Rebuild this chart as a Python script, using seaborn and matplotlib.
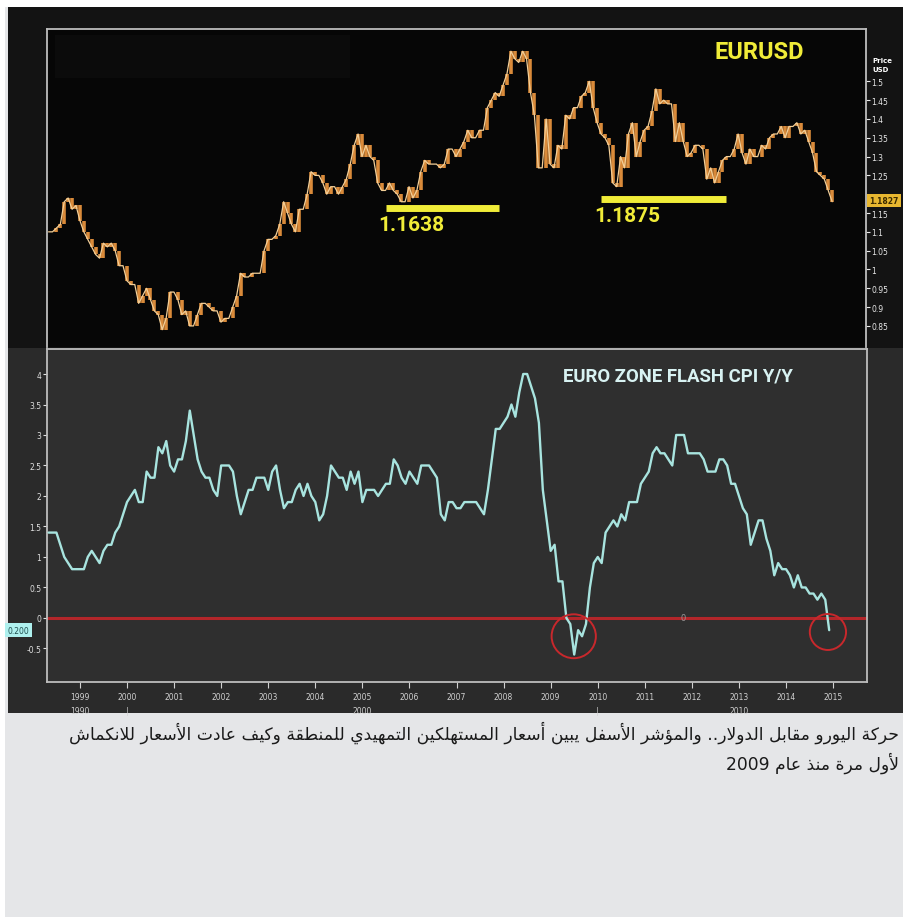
import re
import numpy as np
import pandas as pd
import matplotlib
matplotlib.use('Agg')
import matplotlib.pyplot as plt
from matplotlib.patches import Ellipse, Rectangle
import seaborn as sns

# EURUSD, monthly, May 1998 - Jan 2015
eurusd = [1.10, 1.10, 1.11, 1.12, 1.18, 1.19, 1.16, 1.17,
          1.13, 1.10, 1.08, 1.06, 1.04, 1.03, 1.07, 1.06, 1.07, 1.05, 1.01, 1.01,
          0.97, 0.96, 0.96, 0.91, 0.93, 0.95, 0.92, 0.89, 0.88, 0.84, 0.87, 0.94,
          0.94, 0.92, 0.88, 0.89, 0.85, 0.85, 0.88, 0.91, 0.91, 0.90, 0.89, 0.89,
          0.86, 0.87, 0.87, 0.90, 0.93, 0.99, 0.98, 0.98, 0.99, 0.99, 0.99, 1.05,
          1.08, 1.08, 1.09, 1.12, 1.18, 1.15, 1.12, 1.10, 1.16, 1.16, 1.20, 1.26,
          1.25, 1.25, 1.23, 1.20, 1.22, 1.22, 1.20, 1.22, 1.24, 1.28, 1.33, 1.36,
          1.30, 1.33, 1.30, 1.29, 1.23, 1.21, 1.21, 1.23, 1.21, 1.20, 1.18, 1.18,
          1.22, 1.19, 1.21, 1.26, 1.29, 1.28, 1.28, 1.28, 1.27, 1.28, 1.32, 1.32,
          1.30, 1.32, 1.34, 1.37, 1.35, 1.35, 1.37, 1.37, 1.43, 1.45, 1.47, 1.46,
          1.49, 1.52, 1.58, 1.56, 1.55, 1.58, 1.56, 1.47, 1.41, 1.27, 1.27, 1.40,
          1.28, 1.27, 1.33, 1.32, 1.41, 1.40, 1.43, 1.43, 1.46, 1.47, 1.50, 1.43,
          1.39, 1.36, 1.35, 1.33, 1.23, 1.22, 1.30, 1.27, 1.36, 1.39, 1.30, 1.34,
          1.37, 1.38, 1.42, 1.48, 1.44, 1.45, 1.44, 1.44, 1.34, 1.39, 1.34, 1.30,
          1.31, 1.33, 1.33, 1.32, 1.24, 1.27, 1.23, 1.26, 1.29, 1.30, 1.30, 1.32,
          1.36, 1.31, 1.28, 1.32, 1.30, 1.30, 1.33, 1.32, 1.35, 1.36, 1.36, 1.38,
          1.35, 1.38, 1.38, 1.39, 1.36, 1.37, 1.34, 1.31, 1.26, 1.25, 1.24, 1.21,
          1.18]

# Euro zone flash CPI y/y, monthly, May 1998 - Dec 2014
cpi = [1.4, 1.4, 1.4, 1.2, 1.0, 0.9, 0.8, 0.8,
       0.8, 0.8, 1.0, 1.1, 1.0, 0.9, 1.1, 1.2, 1.2, 1.4, 1.5, 1.7,
       1.9, 2.0, 2.1, 1.9, 1.9, 2.4, 2.3, 2.3, 2.8, 2.7, 2.9, 2.5,
       2.4, 2.6, 2.6, 2.9, 3.4, 3.0, 2.6, 2.4, 2.3, 2.3, 2.1, 2.0,
       2.5, 2.5, 2.5, 2.4, 2.0, 1.7, 1.9, 2.1, 2.1, 2.3, 2.3, 2.3,
       2.1, 2.4, 2.5, 2.1, 1.8, 1.9, 1.9, 2.1, 2.2, 2.0, 2.2, 2.0,
       1.9, 1.6, 1.7, 2.0, 2.5, 2.4, 2.3, 2.3, 2.1, 2.4, 2.2, 2.4,
       1.9, 2.1, 2.1, 2.1, 2.0, 2.1, 2.2, 2.2, 2.6, 2.5, 2.3, 2.2,
       2.4, 2.3, 2.2, 2.5, 2.5, 2.5, 2.4, 2.3, 1.7, 1.6, 1.9, 1.9,
       1.8, 1.8, 1.9, 1.9, 1.9, 1.9, 1.8, 1.7, 2.1, 2.6, 3.1, 3.1,
       3.2, 3.3, 3.5, 3.3, 3.7, 4.0, 4.0, 3.8, 3.6, 3.2, 2.1, 1.6,
       1.1, 1.2, 0.6, 0.6, 0.0, -0.1, -0.6, -0.2, -0.3, -0.1, 0.5, 0.9,
       1.0, 0.9, 1.4, 1.5, 1.6, 1.5, 1.7, 1.6, 1.9, 1.9, 1.9, 2.2,
       2.3, 2.4, 2.7, 2.8, 2.7, 2.7, 2.6, 2.5, 3.0, 3.0, 3.0, 2.7,
       2.7, 2.7, 2.7, 2.6, 2.4, 2.4, 2.4, 2.6, 2.6, 2.5, 2.2, 2.2,
       2.0, 1.8, 1.7, 1.2, 1.4, 1.6, 1.6, 1.3, 1.1, 0.7, 0.9, 0.8,
       0.8, 0.7, 0.5, 0.7, 0.5, 0.5, 0.4, 0.4, 0.3, 0.4, 0.3, -0.2]

years = list(range(1999, 2016))
sub_labels = {1999: '1990', 2000: '|', 2005: '2000', 2010: '|', 2013: '2010'}
price_ticks = [0.85, 0.9, 0.95, 1.0, 1.05, 1.1, 1.15, 1.25, 1.3, 1.35, 1.4, 1.45, 1.5]
cpi_ticks = [-0.5, 0, 0.5, 1, 1.5, 2, 2.5, 3, 3.5, 4]
supports = ['1.1638', '1.1875']
support_spans = [('2005-07', '2007-12'), ('2010-02', '2012-10')]
last_price = '1.1827'
last_cpi = '0.200'
caption = ['حركة اليورو مقابل الدولار.. والمؤشر الأسفل يبين أسعار المستهلكين التمهيدي للمنطقة وكيف عادت الأسعار للانكماش',
           'لأول مرة منذ عام 2009']

# --- arabic shaping (matplotlib has no complex text layout) ---
AR = {'ء': (0xFE80, 0), 'آ': (0xFE81, 1), 'أ': (0xFE83, 1), 'ؤ': (0xFE85, 1), 'إ': (0xFE87, 1),
      'ئ': (0xFE89, 2), 'ا': (0xFE8D, 1), 'ب': (0xFE8F, 2), 'ة': (0xFE93, 1), 'ت': (0xFE95, 2),
      'ث': (0xFE99, 2), 'ج': (0xFE9D, 2), 'ح': (0xFEA1, 2), 'خ': (0xFEA5, 2), 'د': (0xFEA9, 1),
      'ذ': (0xFEAB, 1), 'ر': (0xFEAD, 1), 'ز': (0xFEAF, 1), 'س': (0xFEB1, 2), 'ش': (0xFEB5, 2),
      'ص': (0xFEB9, 2), 'ض': (0xFEBD, 2), 'ط': (0xFEC1, 2), 'ظ': (0xFEC5, 2), 'ع': (0xFEC9, 2),
      'غ': (0xFECD, 2), 'ف': (0xFED1, 2), 'ق': (0xFED5, 2), 'ك': (0xFED9, 2), 'ل': (0xFEDD, 2),
      'م': (0xFEE1, 2), 'ن': (0xFEE5, 2), 'ه': (0xFEE9, 2), 'و': (0xFEED, 1), 'ى': (0xFEEF, 1),
      'ي': (0xFEF1, 2)}
LAM_ALEF = {'ا': 0xFEFB, 'أ': 0xFEF7, 'إ': 0xFEF9, 'آ': 0xFEF5}


def dual(c):
    return c in AR and AR[c][1] == 2


def ar(s):
    out = []
    i = 0
    while i < len(s):
        c = s[i]
        prev = s[i - 1] if i > 0 else ''
        nxt = s[i + 1] if i + 1 < len(s) else ''
        if c not in AR:
            out.append(c)
            i += 1
            continue
        if c == 'ل' and nxt in LAM_ALEF:
            out.append(chr(LAM_ALEF[nxt] + (1 if dual(prev) else 0)))
            i += 2
            continue
        base, kind = AR[c]
        cp = dual(prev)
        cn = kind == 2 and nxt in AR and AR[nxt][1] != 0
        if kind == 0:
            code = base
        elif kind == 1:
            code = base + 1 if cp else base
        else:
            code = base + (3 if cp and cn else 1 if cp else 2 if cn else 0)
        out.append(chr(code))
        i += 1
    vis = ''.join(out)[::-1]
    return re.sub(r'\d+', lambda m: m.group(0)[::-1], vis)


def frac_year(d):
    d = pd.Timestamp(d)
    return d.year + (d.month - 1) / 12


sns.set_theme(style='dark')
plt.rcParams['font.family'] = ['DejaVu Sans']
narrow = ['Roboto', 'DejaVu Sans']

fx = pd.DataFrame({'date': pd.date_range('1998-05-01', periods=len(eurusd), freq='MS'), 'price': eurusd})
fx['t'] = fx['date'].map(frac_year)
inf = pd.DataFrame({'date': pd.date_range('1998-05-01', periods=len(cpi), freq='MS'), 'cpi': cpi})
inf['t'] = inf['date'].map(frac_year)

W, H = 904, 920
fig = plt.figure(figsize=(W / 100, H / 100), dpi=100)
fig.patch.set_facecolor('white')


def box(x0, y0, x1, y1, color, z=-5):
    fig.add_artist(Rectangle((x0 / W, 1 - y1 / H), (x1 - x0) / W, (y1 - y0) / H,
                             transform=fig.transFigure, facecolor=color, edgecolor='none', zorder=z))


box(5, 8, 904, 918, '#e5e6e8')
box(8, 8, 904, 349, '#131313', -4)
box(8, 349, 904, 714, '#2a2a2a', -4)

xlim = (1998.30, 2015.72)
frame = '#bdbdbd'

# ---------- top: EURUSD ----------
ax1 = fig.add_axes([47 / W, 1 - 348 / H, (866 - 47) / W, (348 - 30) / H])
ax1.set_facecolor('#060606')
prev = np.r_[fx['price'].iloc[0], fx['price'].values[:-1]]
ax1.vlines(fx['t'], np.minimum(prev, fx['price']), np.maximum(prev, fx['price']),
           color='#d98a3a', lw=2.6, zorder=2)
sns.lineplot(data=fx, x='t', y='price', ax=ax1, color='#f3cf98', lw=0.9, zorder=3)
ax1.set_xlim(*xlim)
ax1.set_ylim(0.794, 1.639)
ax1.add_patch(Rectangle((0.01, 0.845), 0.36, 0.135, transform=ax1.transAxes,
                        facecolor='#0b0b0b', edgecolor='none', zorder=1))

for lvl, (a, b) in zip(supports, support_spans):
    ax1.hlines(float(lvl), frac_year(a), frac_year(b), color='#f0ec38', lw=5, zorder=4)
    ax1.text(frac_year(a) - 0.15, float(lvl) - 0.045, lvl, color='#f0ec38', fontsize=15,
             fontweight='bold', family=narrow, ha='left', va='center', zorder=5)
ax1.text(2012.5, 1.578, 'EURUSD', color='#f0ec38', fontsize=17, fontweight='bold',
         family=narrow, ha='left', va='center')

ax1.yaxis.tick_right()
ax1.set_yticks(price_ticks)
ax1.set_yticklabels([f'{v:g}' for v in price_ticks])
ax1.tick_params(axis='y', colors='#e8e8e8', labelsize=5.5, length=3, width=0.8, pad=1, right=True)
ax1.tick_params(axis='x', bottom=False, labelbottom=False)
ax1.text(1.004, float(last_price), last_price, transform=ax1.get_yaxis_transform(),
         fontsize=5.5, color='#3a2a00', ha='left', va='center', fontweight='bold',
         bbox=dict(boxstyle='square,pad=0.25', facecolor='#e8b730', edgecolor='none'))
ax1.text(1.008, 1.525, 'Price\nUSD', transform=ax1.get_yaxis_transform(), fontsize=5,
         color='white', fontweight='bold', ha='left', va='bottom', linespacing=1.6)
ax1.set_xlabel('')
ax1.set_ylabel('')
for s in ['top', 'left', 'right']:
    ax1.spines[s].set_color(frame)
    ax1.spines[s].set_linewidth(1.3)
ax1.spines['bottom'].set_visible(False)

# ---------- bottom: CPI ----------
ax2 = fig.add_axes([47 / W, 1 - 683 / H, (867 - 47) / W, (683 - 350) / H])
ax2.set_facecolor('#2f2f2f')
ax2.axhline(0, color='#b3262a', lw=2.2, zorder=2)
sns.lineplot(data=inf, x='t', y='cpi', ax=ax2, color='#a8e4df', lw=1.7, zorder=3)
ax2.set_xlim(*xlim)
ax2.set_ylim(-1.05, 4.41)
ax2.add_patch(Ellipse((2009.49, -0.30), 0.94, 0.72, facecolor='none', edgecolor='#c8282c', lw=1.4, zorder=4))
ax2.add_patch(Ellipse((2014.89, -0.23), 0.77, 0.59, facecolor='none', edgecolor='#c8282c', lw=1.4, zorder=4))
ax2.text(2011.81, 0, '0', color='#9a9a9a', fontsize=6, ha='center', va='center', zorder=5)
ax2.text(2009.26, 3.97, 'EURO ZONE FLASH CPI Y/Y', color='#d8f2f2', fontsize=13.4, fontweight='bold',
         family=narrow, ha='left', va='center')

ax2.set_yticks(cpi_ticks)
ax2.set_yticklabels([f'{v:g}' for v in cpi_ticks])
ax2.tick_params(axis='y', colors='#e0e0e0', labelsize=5.5, length=3, width=0.8, pad=1, left=True)
ax2.set_xticks(years)
ax2.set_xticklabels([str(y) for y in years])
ax2.tick_params(axis='x', colors='#d0d0d0', labelsize=5.5, length=4, width=0.8, pad=3, bottom=True)
for y, lab in sub_labels.items():
    ax2.text(y, -0.085, lab, transform=ax2.get_xaxis_transform(), fontsize=5.5, color='#d0d0d0',
             ha='center', va='center', clip_on=False)
ax2.text(-0.048, -0.2, last_cpi, transform=ax2.get_yaxis_transform(), fontsize=5.5, color='#1f4f4f',
         ha='left', va='center', bbox=dict(boxstyle='square,pad=0.3', facecolor='#aef0ee', edgecolor='none'))
ax2.set_xlabel('')
ax2.set_ylabel('')
for s in ax2.spines.values():
    s.set_color(frame)
    s.set_linewidth(1.3)

# ---------- caption ----------
fig.text(899 / W, 1 - 733 / H, ar(caption[0]), ha='right', va='center', fontsize=12.3,
         color='#1a1a1a', family='DejaVu Sans')
fig.text(899 / W, 1 - 763 / H, ar(caption[1]), ha='right', va='center', fontsize=12.3,
         color='#1a1a1a', family='DejaVu Sans')

fig.savefig('out.png', dpi=100, facecolor=fig.get_facecolor())
